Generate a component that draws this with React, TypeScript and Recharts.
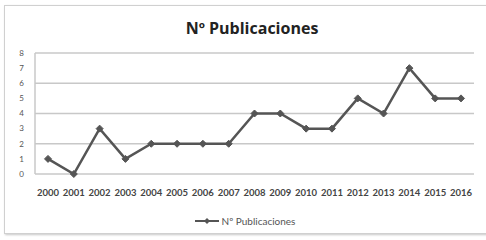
import React from 'react';
import { LineChart, Line, XAxis, YAxis, CartesianGrid, Legend } from 'recharts';

const years = ['2000','2001','2002','2003','2004','2005','2006','2007','2008','2009','2010','2011','2012','2013','2014','2015','2016'];
const publicaciones = [1,0,3,1,2,2,2,2,4,4,3,3,5,4,7,5,5];
const yTicks = [0,1,2,3,4,5,6,7,8];
const seriesName = 'Nº Publicaciones';
const title = 'Nº Publicaciones';

const data = years.map((y, i) => ({ year: y, value: publicaciones[i] }));

const font = 'Lato, "Open Sans", sans-serif';

const Diamond = (props: any) => {
  const { cx, cy } = props;
  if (cx == null || cy == null) return null;
  const r = 3.5;
  return <path d={`M${cx},${cy - r}L${cx + r},${cy}L${cx},${cy + r}L${cx - r},${cy}Z`} fill="#555" stroke="#555" />;
};

export default function App() {
  return (
    <div style={{ position: 'absolute', left: 0, top: 0, width: 486, height: 240, background: '#fff', fontFamily: font }}>
      <div style={{ position: 'absolute', left: 4, top: 5, width: 490, height: 227, border: '1px solid #d0d0d0', boxShadow: '1px 1px 2px #c8c8c8' }} />
      <div style={{ position: 'absolute', left: 12, top: 17, width: 480, textAlign: 'center', fontSize: 16, fontWeight: 'bold', color: '#222', fontFamily: '"Open Sans", sans-serif' }}>{title}</div>
      <div style={{ position: 'absolute', left: 0, top: 0 }}>
        <LineChart width={486} height={240} data={data} margin={{ top: 53, right: 12, bottom: 0, left: 12 }}>
          <CartesianGrid horizontal={true} vertical={false} stroke="#c8c8c8" strokeWidth={1.5} />
          <XAxis dataKey="year" axisLine={false} tickLine={false} interval={0} height={28} padding={{ left: 13, right: 13 }}
            tick={{ fontSize: 9.5, fill: '#444', fontFamily: font, fontWeight: 'bold' }} tickMargin={9} />
          <YAxis domain={[0, 8]} ticks={yTicks} width={23} axisLine={{ stroke: '#c8c8c8', strokeWidth: 1.5 }} tickLine={false}
            tick={{ fontSize: 8, fill: '#555', fontFamily: font }} tickMargin={5} />
          <Legend verticalAlign="bottom" height={38}
            content={() => (
              <div style={{ display: 'flex', justifyContent: 'center', alignItems: 'center', height: 38, fontSize: 10, color: '#555', fontFamily: font, paddingLeft: 4 }}>
                <svg width={24} height={8} style={{ marginRight: 3 }}>
                  <line x1={0} y1={4} x2={24} y2={4} stroke="#555" strokeWidth={2} />
                  <path d="M12,1L15,4L12,7L9,4Z" fill="#555" />
                </svg>
                <span>{seriesName}</span>
              </div>
            )} />
          <Line type="linear" dataKey="value" name={seriesName} stroke="#555" strokeWidth={2.5}
            dot={<Diamond />} activeDot={false} isAnimationActive={false} />
        </LineChart>
      </div>
    </div>
  );
}
